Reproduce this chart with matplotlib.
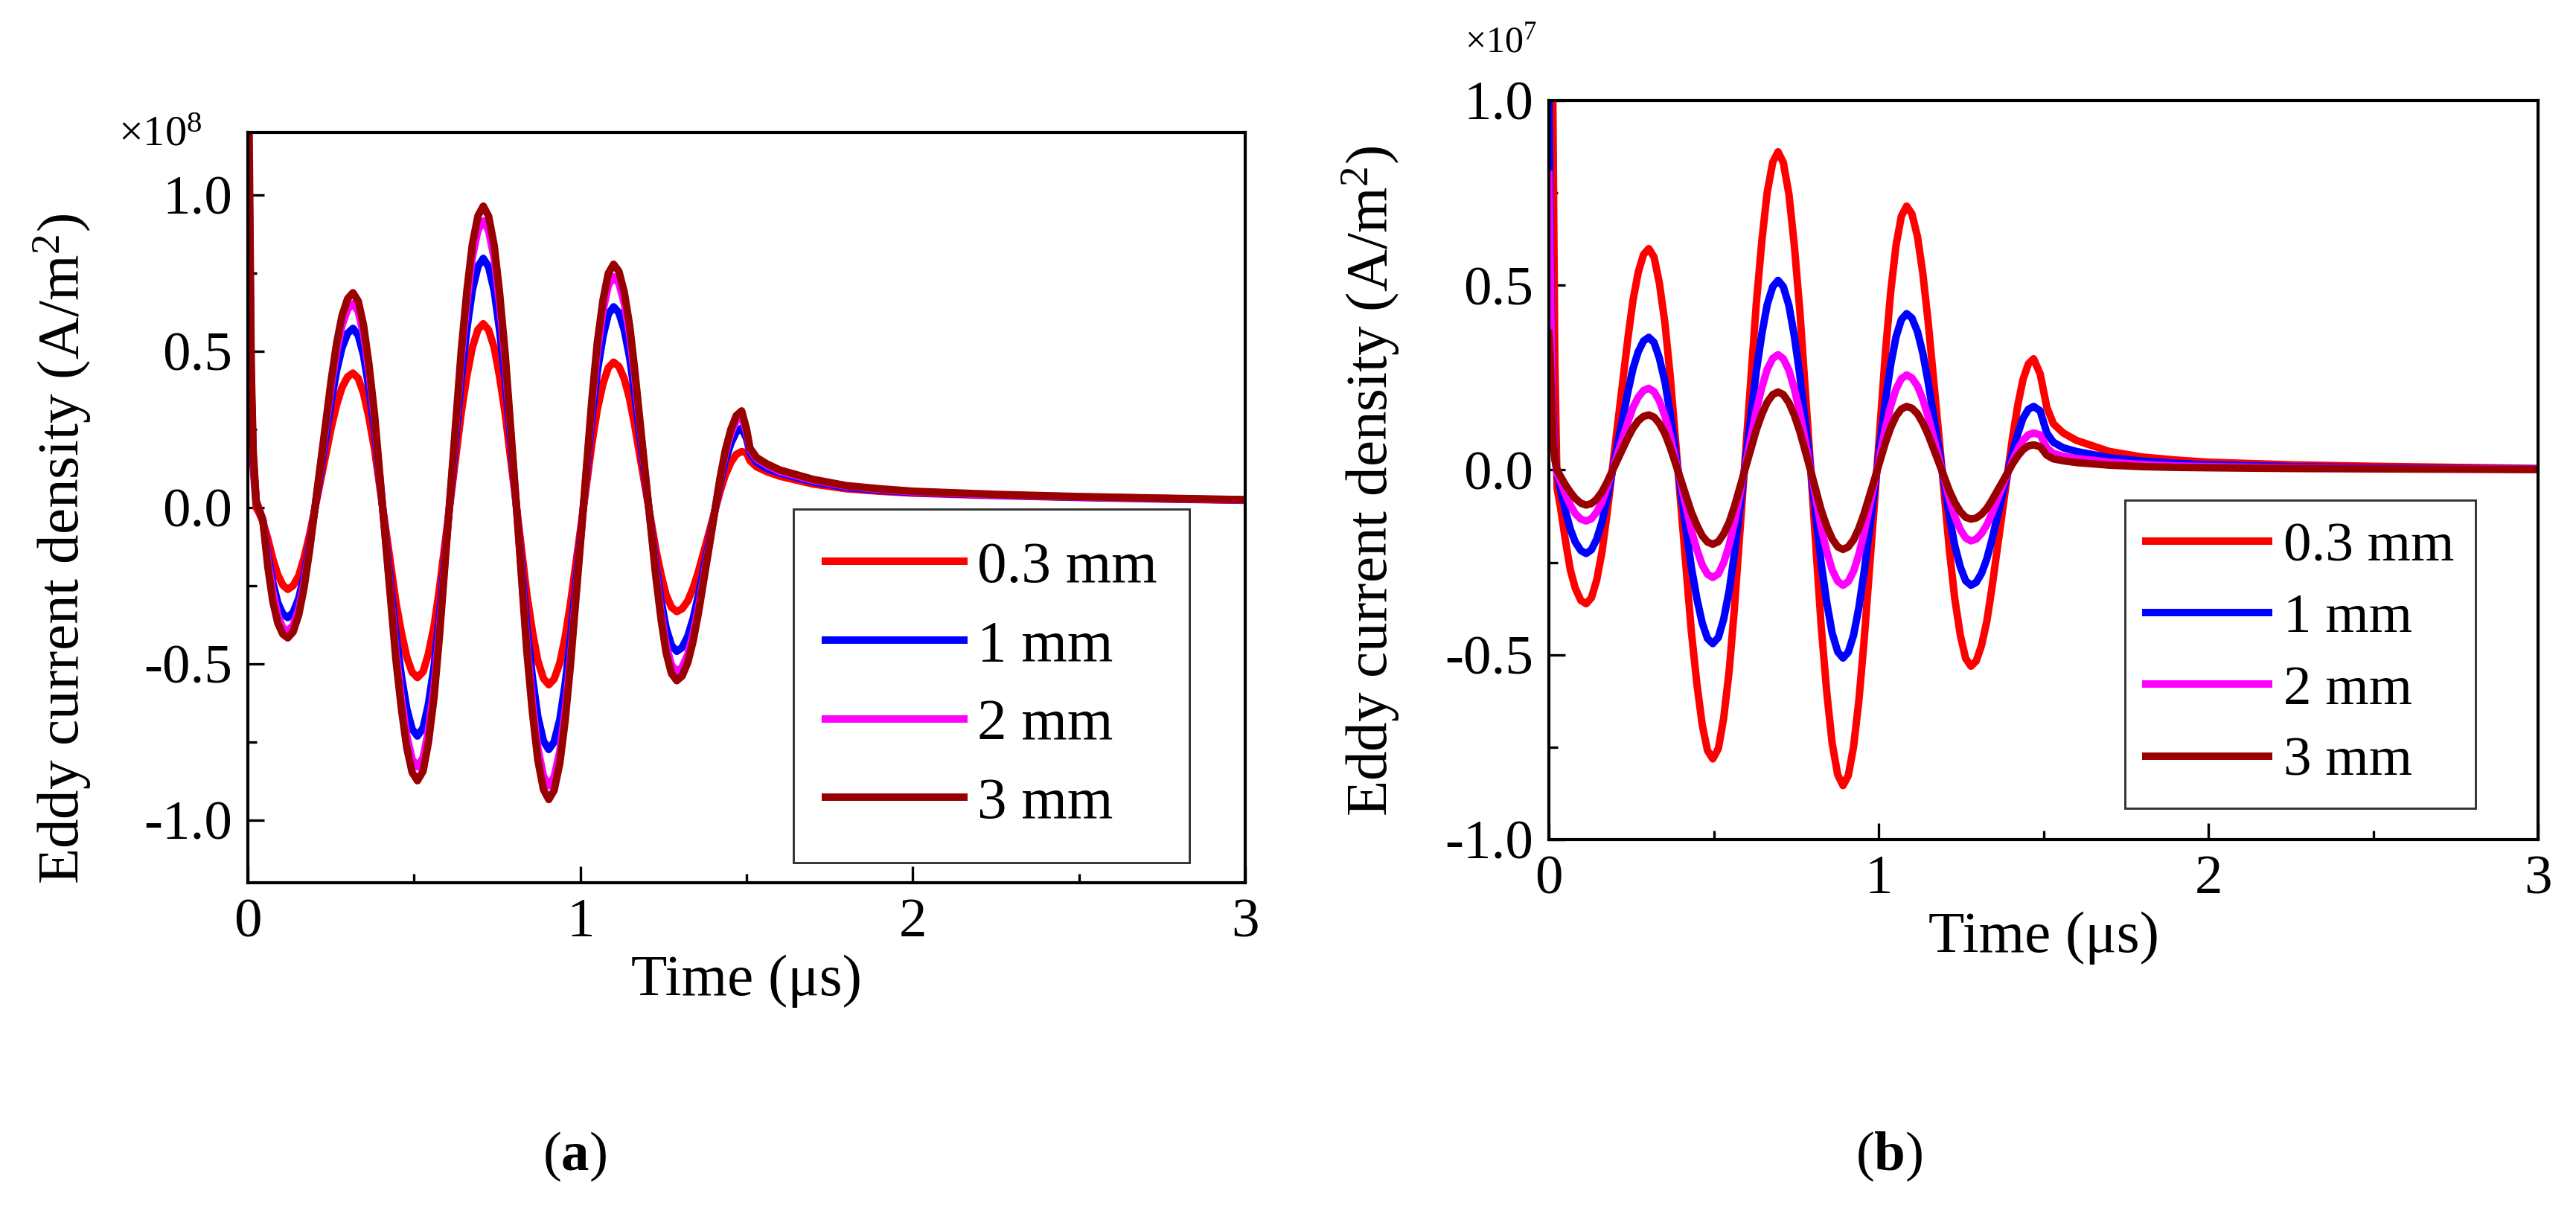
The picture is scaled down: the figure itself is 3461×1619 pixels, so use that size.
import matplotlib
matplotlib.use('Agg')
from matplotlib import pyplot as plt
from matplotlib.ticker import MultipleLocator, FormatStrFormatter

plt.rcParams['font.family'] = ['Liberation Serif', 'DejaVu Serif']
plt.rcParams['mathtext.fontset'] = 'custom'
plt.rcParams['mathtext.rm'] = 'Liberation Serif'
plt.rcParams['mathtext.it'] = 'Liberation Serif:italic'
plt.rcParams['mathtext.bf'] = 'Liberation Serif:bold'
plt.rcParams['axes.unicode_minus'] = False

labels = ['0.3 mm', '1 mm', '2 mm', '3 mm']
colors = ['#ff0000', '#0000ff', '#ff00ff', '#990000']

# (a) time axis in us, values in 1e8 A/m^2
t_a = [0, 0.005, 0.01, 0.016, 0.025, 0.035, 0.045, 0.06, 0.075, 0.09, 0.105,
       0.12, 0.136, 0.153, 0.169, 0.185, 0.218, 0.251, 0.267, 0.283, 0.300, 0.316,
       0.332, 0.348, 0.364, 0.381, 0.413, 0.445, 0.462, 0.478, 0.494, 0.51,
       0.527, 0.543, 0.56, 0.576, 0.609, 0.642, 0.659, 0.675, 0.692, 0.708,
       0.724, 0.741, 0.757, 0.774, 0.807, 0.839, 0.856, 0.872, 0.889, 0.905,
       0.921, 0.938, 0.954, 0.97, 1.003, 1.035, 1.051, 1.068, 1.084, 1.10,
       1.116, 1.132, 1.148, 1.163, 1.195, 1.227, 1.243, 1.258, 1.274, 1.29,
       1.306, 1.323, 1.339, 1.355, 1.388, 1.42, 1.436, 1.453, 1.469, 1.485,
       1.50, 1.51, 1.53, 1.56, 1.6, 1.7, 1.8, 1.9, 2.0, 2.25, 2.5, 2.75, 3.0]

a_03mm = [1.3, 0.85, 0.35, 0.13, 0.0, -0.02, -0.045, -0.10, -0.165, -0.215, -0.248,
          -0.262, -0.250, -0.218, -0.161, -0.09, 0.083, 0.257, 0.329, 0.384, 0.418, 0.43,
          0.413, 0.365, 0.288, 0.186, -0.057, -0.301, -0.402, -0.479, -0.527, -0.544,
          -0.525, -0.468, -0.379, -0.261, 0.022, 0.305, 0.423, 0.512, 0.569, 0.588,
          0.568, 0.511, 0.419, 0.299, 0.01, -0.278, -0.398, -0.49, -0.547, -0.567,
          -0.549, -0.498, -0.416, -0.309, -0.051, 0.207, 0.314, 0.396, 0.447, 0.465,
          0.451, 0.412, 0.348, 0.265, 0.066, -0.134, -0.216, -0.28, -0.319, -0.333,
          -0.324, -0.299, -0.258, -0.205, -0.077, 0.051, 0.104, 0.145, 0.170, 0.179,
          0.175, 0.15, 0.13, 0.115, 0.1, 0.075, 0.06, 0.052, 0.046, 0.038, 0.032, 0.027, 0.023]

a_1mm = [1.3, 0.9, 0.38, 0.15, 0.02, -0.01, -0.04, -0.15, -0.24, -0.305, -0.34,
         -0.352, -0.336, -0.29, -0.217, -0.121, 0.111, 0.342, 0.438, 0.511, 0.557, 0.573,
         0.551, 0.486, 0.383, 0.247, -0.079, -0.405, -0.541, -0.644, -0.709, -0.731,
         -0.705, -0.629, -0.508, -0.349, 0.033, 0.415, 0.574, 0.695, 0.771, 0.797,
         0.77, 0.692, 0.568, 0.404, 0.011, -0.381, -0.545, -0.669, -0.747, -0.774,
         -0.75, -0.679, -0.567, -0.42, -0.066, 0.288, 0.435, 0.547, 0.618, 0.642,
         0.623, 0.568, 0.481, 0.366, 0.091, -0.185, -0.299, -0.386, -0.441, -0.46,
         -0.448, -0.412, -0.356, -0.281, -0.103, 0.076, 0.15, 0.206, 0.242, 0.254,
         0.22, 0.175, 0.145, 0.125, 0.11, 0.082, 0.064, 0.055, 0.048, 0.039, 0.033, 0.028, 0.024]

a_2mm = [1.4, 0.95, 0.4, 0.16, 0.02, -0.01, -0.04, -0.17, -0.27, -0.345, -0.385,
         -0.395, -0.377, -0.325, -0.242, -0.133, 0.129, 0.39, 0.499, 0.582, 0.634, 0.652,
         0.627, 0.553, 0.436, 0.281, -0.089, -0.46, -0.614, -0.731, -0.805, -0.83,
         -0.8, -0.713, -0.575, -0.393, 0.044, 0.48, 0.662, 0.8, 0.887, 0.917,
         0.886, 0.796, 0.653, 0.465, 0.013, -0.438, -0.626, -0.769, -0.859, -0.89,
         -0.862, -0.781, -0.652, -0.483, -0.076, 0.331, 0.5, 0.629, 0.71, 0.738,
         0.717, 0.653, 0.554, 0.422, 0.106, -0.209, -0.341, -0.44, -0.504, -0.525,
         -0.511, -0.47, -0.406, -0.321, -0.116, 0.088, 0.173, 0.237, 0.278, 0.292,
         0.24, 0.185, 0.155, 0.135, 0.115, 0.087, 0.068, 0.058, 0.05, 0.04, 0.034, 0.029, 0.024]

a_3mm = [1.6, 1.05, 0.45, 0.18, 0.02, -0.01, -0.04, -0.19, -0.30, -0.37, -0.405,
         -0.417, -0.398, -0.343, -0.256, -0.141, 0.135, 0.411, 0.526, 0.613, 0.668, 0.687,
         0.66, 0.582, 0.459, 0.297, -0.094, -0.484, -0.646, -0.769, -0.847, -0.874,
         -0.843, -0.751, -0.606, -0.414, 0.045, 0.505, 0.696, 0.841, 0.933, 0.964,
         0.932, 0.837, 0.687, 0.489, 0.015, -0.46, -0.657, -0.807, -0.902, -0.934,
         -0.905, -0.819, -0.684, -0.506, -0.078, 0.35, 0.528, 0.663, 0.749, 0.778,
         0.755, 0.689, 0.584, 0.445, 0.112, -0.221, -0.36, -0.465, -0.531, -0.554,
         -0.539, -0.496, -0.428, -0.338, -0.122, 0.093, 0.183, 0.251, 0.294, 0.309,
         0.25, 0.19, 0.16, 0.14, 0.12, 0.09, 0.07, 0.06, 0.052, 0.042, 0.035, 0.03, 0.025]

# (b) time axis in us, values in 1e7 A/m^2
t_b = [0, 0.004, 0.008, 0.012, 0.018, 0.025, 0.035, 0.05, 0.065, 0.08, 0.097,
       0.113, 0.129, 0.145, 0.161, 0.176, 0.208, 0.24, 0.255, 0.271, 0.287, 0.303,
       0.319, 0.335, 0.352, 0.368, 0.40, 0.432, 0.449, 0.465, 0.481, 0.497,
       0.514, 0.53, 0.547, 0.563, 0.596, 0.629, 0.646, 0.662, 0.679, 0.695,
       0.711, 0.728, 0.744, 0.761, 0.794, 0.826, 0.843, 0.859, 0.876, 0.892,
       0.908, 0.924, 0.94, 0.956, 0.989, 1.021, 1.037, 1.053, 1.069, 1.085,
       1.101, 1.118, 1.134, 1.15, 1.183, 1.215, 1.231, 1.248, 1.264, 1.28,
       1.296, 1.312, 1.328, 1.343, 1.375, 1.407, 1.423, 1.438, 1.454, 1.47,
       1.49, 1.51, 1.53, 1.56, 1.6, 1.7, 1.8, 1.9, 2.0, 2.25, 2.5, 2.75, 3.0]

b_03mm = [1.4, 1.35, 1.25, 1.0, 0.3, -0.05, -0.1, -0.19, -0.27, -0.32, -0.353,
          -0.362, -0.346, -0.298, -0.222, -0.122, 0.119, 0.359, 0.459, 0.535, 0.583, 0.599,
          0.576, 0.506, 0.397, 0.254, -0.092, -0.437, -0.58, -0.689, -0.759, -0.782,
          -0.754, -0.672, -0.542, -0.371, 0.04, 0.45, 0.621, 0.751, 0.833, 0.861,
          0.832, 0.746, 0.611, 0.432, 0.003, -0.425, -0.604, -0.739, -0.825, -0.854,
          -0.827, -0.749, -0.625, -0.462, -0.07, 0.322, 0.485, 0.609, 0.687, 0.714,
          0.693, 0.631, 0.532, 0.403, 0.091, -0.22, -0.349, -0.448, -0.51, -0.531,
          -0.517, -0.475, -0.41, -0.323, -0.115, 0.093, 0.18, 0.245, 0.287, 0.301,
          0.26, 0.17, 0.125, 0.1, 0.08, 0.05, 0.035, 0.027, 0.021, 0.014, 0.01, 0.007, 0.004]

b_1mm = [1.0, 0.65, 0.35, 0.16, 0.04, -0.01, -0.05, -0.11, -0.16, -0.195, -0.218,
         -0.226, -0.216, -0.187, -0.141, -0.08, 0.067, 0.213, 0.274, 0.32, 0.349, 0.359,
         0.345, 0.303, 0.238, 0.152, -0.056, -0.263, -0.349, -0.414, -0.456, -0.47,
         -0.453, -0.404, -0.326, -0.224, 0.022, 0.267, 0.369, 0.447, 0.496, 0.513,
         0.496, 0.445, 0.364, 0.257, 0.002, -0.254, -0.36, -0.441, -0.492, -0.509,
         -0.493, -0.447, -0.373, -0.276, -0.043, 0.19, 0.287, 0.361, 0.407, 0.423,
         0.411, 0.374, 0.316, 0.239, 0.055, -0.128, -0.205, -0.263, -0.3, -0.312,
         -0.304, -0.28, -0.241, -0.191, -0.07, 0.051, 0.101, 0.14, 0.164, 0.172,
         0.16, 0.1, 0.075, 0.06, 0.05, 0.033, 0.024, 0.018, 0.014, 0.009, 0.006, 0.004, 0.003]

b_2mm = [0.8, 0.55, 0.3, 0.13, 0.03, -0.01, -0.03, -0.065, -0.095, -0.118, -0.133,
         -0.138, -0.132, -0.114, -0.086, -0.048, 0.042, 0.131, 0.169, 0.197, 0.215, 0.221,
         0.212, 0.187, 0.146, 0.093, -0.035, -0.163, -0.216, -0.257, -0.282, -0.291,
         -0.281, -0.251, -0.203, -0.14, 0.011, 0.161, 0.224, 0.272, 0.302, 0.312,
         0.301, 0.27, 0.221, 0.156, 0.0, -0.156, -0.221, -0.27, -0.301, -0.312,
         -0.302, -0.274, -0.229, -0.17, -0.027, 0.115, 0.174, 0.219, 0.247, 0.257,
         0.249, 0.227, 0.191, 0.145, 0.032, -0.08, -0.126, -0.162, -0.184, -0.192,
         -0.187, -0.172, -0.149, -0.119, -0.046, 0.027, 0.057, 0.08, 0.095, 0.10,
         0.095, 0.06, 0.045, 0.037, 0.031, 0.021, 0.015, 0.011, 0.009, 0.006, 0.004, 0.003, 0.002]

b_3mm = [0.37, 0.3, 0.2, 0.1, 0.03, 0.0, -0.017, -0.04, -0.06, -0.077, -0.09,
         -0.095, -0.091, -0.079, -0.059, -0.034, 0.027, 0.088, 0.113, 0.133, 0.145, 0.149,
         0.143, 0.126, 0.098, 0.061, -0.026, -0.114, -0.15, -0.178, -0.195, -0.201,
         -0.194, -0.173, -0.141, -0.098, 0.005, 0.108, 0.151, 0.183, 0.204, 0.211,
         0.204, 0.182, 0.149, 0.104, -0.002, -0.109, -0.153, -0.186, -0.208, -0.215,
         -0.208, -0.189, -0.158, -0.118, -0.021, 0.075, 0.115, 0.146, 0.165, 0.172,
         0.167, 0.152, 0.127, 0.096, 0.019, -0.057, -0.088, -0.113, -0.128, -0.133,
         -0.13, -0.12, -0.104, -0.083, -0.033, 0.018, 0.039, 0.055, 0.065, 0.068,
         0.063, 0.04, 0.03, 0.025, 0.02, 0.013, 0.009, 0.007, 0.006, 0.004, 0.003, 0.002, 0.001]

fig = plt.figure(figsize=(11.54, 5.397), dpi=300)
ax_a = fig.add_axes([0.0962, 0.2675, 0.3871, 0.6226])
ax_b = fig.add_axes([0.6011, 0.3033, 0.3839, 0.6133])


def style_axes(ax, ylim):
    ax.set_xlim(0, 3)
    ax.set_ylim(*ylim)
    ax.xaxis.set_major_locator(MultipleLocator(1))
    ax.xaxis.set_minor_locator(MultipleLocator(0.5))
    ax.yaxis.set_major_locator(MultipleLocator(0.5))
    ax.yaxis.set_minor_locator(MultipleLocator(0.25))
    ax.yaxis.set_major_formatter(FormatStrFormatter('%.1f'))
    ax.tick_params(which='both', direction='in', top=False, right=False,
                   labelsize=18, width=0.8)
    ax.tick_params(which='major', length=5.3, pad=5)
    ax.tick_params(which='minor', length=2.9)
    for s in ax.spines.values():
        s.set_linewidth(1.0)
    ax.set_xlabel('Time (μs)', fontsize=19, labelpad=2)


# plot for (a)
for y, c, lab in zip([a_03mm, a_1mm, a_2mm, a_3mm], colors, labels):
    ax_a.plot(t_a, y, color=c, lw=2.4, label=lab, solid_joinstyle='round')
style_axes(ax_a, (-1.2, 1.2))
ax_a.set_ylabel('Eddy current density (A/m$^2$)', fontsize=19)
ax_a.yaxis.set_label_coords(-0.155, 0.445)
leg_a = ax_a.legend(loc='upper left', bbox_to_anchor=(0.547, 0.498), borderaxespad=0,
                    fontsize=19, frameon=True, fancybox=False, edgecolor='black',
                    borderpad=0.54, labelspacing=0.42, handlelength=2.35,
                    handletextpad=0.23)
leg_a.get_frame().set_linewidth(0.7)
ax_a.text(-0.13, 0.983, '×10$^8$', transform=ax_a.transAxes, fontsize=14,
          ha='left', va='baseline')

# plot for (b)
for y, c, lab in zip([b_03mm, b_1mm, b_2mm, b_3mm], colors, labels):
    ax_b.plot(t_b, y, color=c, lw=2.4, label=lab, solid_joinstyle='round')
style_axes(ax_b, (-1.0, 1.0))
ax_b.set_ylabel('Eddy current density (A/m$^2$)', fontsize=19)
ax_b.yaxis.set_label_coords(-0.149, 0.485)
leg_b = ax_b.legend(loc='upper left', bbox_to_anchor=(0.582, 0.459), borderaxespad=0,
                    fontsize=18, frameon=True, fancybox=False, edgecolor='black',
                    borderpad=0.38, labelspacing=0.37, handlelength=2.2,
                    handletextpad=0.27)
leg_b.get_frame().set_linewidth(0.7)
ax_b.text(-0.085, 1.066, '×10$^7$', transform=ax_b.transAxes, fontsize=12,
          ha='left', va='baseline')

# sub-figure captions
fig.text(772 / 3462, 1 - 1554 / 1619, '($\\mathbf{a}$)', fontsize=18, ha='center', va='center')
fig.text(2538 / 3462, 1 - 1554 / 1619, '($\\mathbf{b}$)', fontsize=18, ha='center', va='center')

fig.savefig('out.png', dpi=300)
